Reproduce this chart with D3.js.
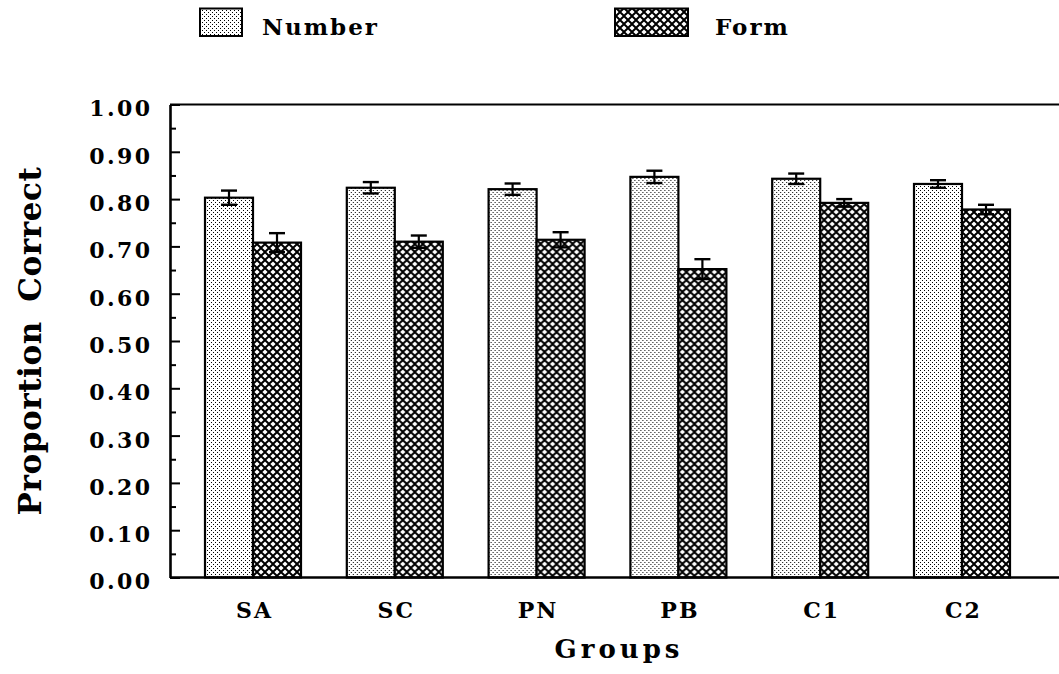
<!DOCTYPE html>
<html><head><meta charset="utf-8">
<script src="https://cdn.jsdelivr.net/npm/d3@7"></script>
<style>
body{margin:0;background:#fff}
svg{display:block}
text{font-family:"DejaVu Serif",serif;font-weight:bold;fill:#000}
</style>
</head><body>
<svg id="c" width="1059" height="674"></svg>
<script>
// ---- data ----
const groups = ["SA","SC","PN","PB","C1","C2"];
const seriesNames = ["Number","Form"];
const numberMeans = [0.803,0.824,0.821,0.847,0.843,0.832];
const numberErrs  = [0.015,0.012,0.012,0.013,0.011,0.008];
const formMeans   = [0.708,0.710,0.714,0.652,0.792,0.778];
const formErrs    = [0.020,0.013,0.016,0.021,0.008,0.010];
const yMajorTicks = [0,0.1,0.2,0.3,0.4,0.5,0.6,0.7,0.8,0.9,1.0];
const yMinorTicks = [0.05,0.15,0.25,0.35,0.45,0.55,0.65,0.75,0.85,0.95];
const yTitle = "Proportion Correct";
const xTitle = "Groups";

const svg = d3.select("#c");
const W = 1059;
const plotLeft = 170, plotTop = 104.5, plotBottom = 577.5;

// patterns
const defs = svg.append("defs");
const pn = defs.append("pattern").attr("id","pNum").attr("patternUnits","userSpaceOnUse")
  .attr("width",4).attr("height",4);
pn.append("rect").attr("width",4).attr("height",4).attr("fill","#fff");
pn.append("rect").attr("x",0).attr("y",0).attr("width",1).attr("height",1).attr("fill","#000");
pn.append("rect").attr("x",2).attr("y",2).attr("width",1).attr("height",1).attr("fill","#000");

const pf = defs.append("pattern").attr("id","pForm").attr("patternUnits","userSpaceOnUse")
  .attr("width",8).attr("height",8);
pf.append("rect").attr("width",8).attr("height",8).attr("fill","#000");
const hd = 2.6;
[[4,0],[0,4],[8,4],[4,8]].forEach(c=>{
  pf.append("polygon").attr("fill","#fff")
    .attr("points",[[c[0],c[1]-hd],[c[0]+hd,c[1]],[c[0],c[1]+hd],[c[0]-hd,c[1]]].map(p=>p.join(",")).join(" "));
});

const fills = {Number:"url(#pNum)", Form:"url(#pForm)"};

// scales
const y = d3.scaleLinear().domain([0,1]).range([plotBottom, plotTop]);
const x = d3.scalePoint().domain(groups).range([253, 962]);
const xs = d3.scaleBand().domain(seriesNames).range([-48, 48]).paddingInner(0);

const rows = groups.map((g,i)=>({g, vals:[
  {s:"Number", m:numberMeans[i], e:numberErrs[i]},
  {s:"Form", m:formMeans[i], e:formErrs[i]}
]}));

// top frame line
svg.append("line").attr("x1",plotLeft).attr("x2",W).attr("y1",y(1)).attr("y2",y(1))
  .attr("stroke","#000").attr("stroke-width",2.2);

// bars
const gG = svg.append("g").selectAll("g").data(rows).join("g")
  .attr("transform", d=>`translate(${x(d.g)},0)`);
gG.selectAll("rect").data(d=>d.vals).join("rect")
  .attr("x", d=>xs(d.s)).attr("width", xs.bandwidth())
  .attr("y", d=>y(d.m)).attr("height", d=>y(0)-y(d.m))
  .attr("fill", d=>fills[d.s]).attr("stroke","#000").attr("stroke-width",2.2);

// error bars
const eb = gG.selectAll("g.eb").data(d=>d.vals).join("g").attr("class","eb")
  .attr("transform", d=>`translate(${xs(d.s)+xs.bandwidth()/2},0)`);
eb.append("line").attr("y1",d=>y(d.m-d.e)).attr("y2",d=>y(d.m+d.e))
  .attr("stroke","#000").attr("stroke-width",2.2);
eb.append("line").attr("x1",-8).attr("x2",8).attr("y1",d=>y(d.m+d.e)).attr("y2",d=>y(d.m+d.e))
  .attr("stroke","#000").attr("stroke-width",2.4);
eb.append("line").attr("x1",-8).attr("x2",8).attr("y1",d=>y(d.m-d.e)).attr("y2",d=>y(d.m-d.e))
  .attr("stroke","#000").attr("stroke-width",2.4);

// y axis
const yAxis = svg.append("g").attr("transform",`translate(${plotLeft},0)`)
  .call(d3.axisLeft(y).tickValues(yMajorTicks).tickSize(-10).tickSizeOuter(0)
    .tickPadding(17.5).tickFormat(d3.format(".2f")));
yAxis.select(".domain").attr("stroke-width",2.6);
yAxis.selectAll(".tick line").attr("stroke-width",2);
yAxis.selectAll(".tick text").attr("font-size",22).attr("letter-spacing",2.4)
  .attr("dy","0.52em");
yAxis.attr("font-family",null).attr("font-size",null);
const yMinor = svg.append("g").attr("transform",`translate(${plotLeft},0)`)
  .call(d3.axisLeft(y).tickValues(yMinorTicks).tickSize(-6).tickFormat(""));
yMinor.select(".domain").remove();
yMinor.selectAll(".tick line").attr("stroke-width",2);

// bottom line
svg.append("line").attr("x1",plotLeft).attr("x2",W).attr("y1",y(0)).attr("y2",y(0))
  .attr("stroke","#000").attr("stroke-width",2.6);

// x axis labels
const xAxis = svg.append("g").attr("transform",`translate(0,${y(0)})`)
  .call(d3.axisBottom(x).tickSize(0).tickPadding(25));
xAxis.select(".domain").remove();
xAxis.selectAll(".tick text").attr("font-size",22).attr("letter-spacing",2)
  .attr("dx",1);
xAxis.attr("font-family",null).attr("font-size",null);

// axis titles
svg.append("text").attr("transform",`translate(41,${(plotTop+plotBottom)/2}) rotate(-90)`)
  .attr("text-anchor","middle").attr("font-size",31).attr("letter-spacing",0.6)
  .attr("word-spacing",8)
  .text(yTitle);
svg.append("text").attr("x",619).attr("y",658).attr("text-anchor","middle")
  .attr("font-size",26).attr("letter-spacing",4).text(xTitle);

// legend
const legendItems = [
  {s:"Number", rx:200, rw:42, tx:262},
  {s:"Form", rx:615, rw:73, tx:715}
];
const lg = svg.append("g").selectAll("g").data(legendItems).join("g");
lg.append("rect").attr("x",d=>d.rx).attr("y",8.5).attr("width",d=>d.rw).attr("height",27.5)
  .attr("fill",d=>fills[d.s]).attr("stroke","#000").attr("stroke-width",2);
lg.append("text").attr("x",d=>d.tx).attr("y",35).attr("font-size",23).attr("letter-spacing",2)
  .text(d=>d.s);
</script>
</body></html>
